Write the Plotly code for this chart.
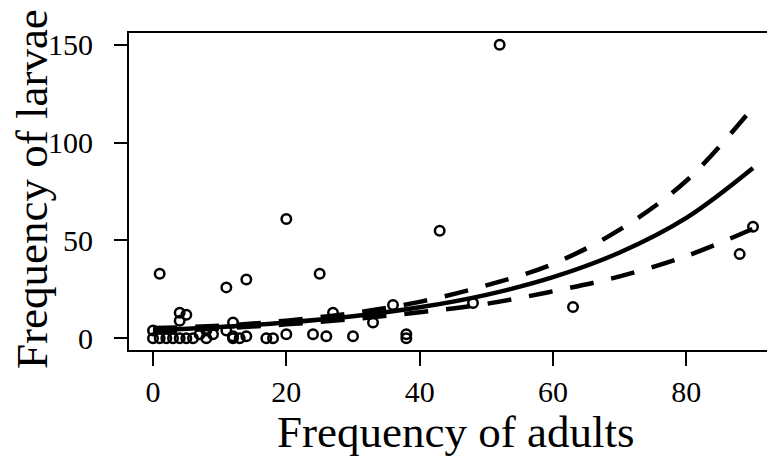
import plotly.graph_objects as go

# Observed data (adults, larvae)
adults = [0, 0, 1, 1, 2, 3, 4, 4, 4, 5, 5, 6, 7, 8, 8, 9, 11, 11, 12, 12, 12, 13, 14, 14,
          17, 18, 20, 20, 24, 25, 26, 27, 30, 33, 36, 38, 38, 43, 48, 52, 63, 88, 90]
larvae = [0, 4, 0, 33, 0, 0, 13, 9, 0, 12, 0, 0, 2, 0, 4, 2, 26, 4, 8, 1, 0, 0, 30, 1,
          0, 0, 61, 2, 2, 33, 1, 13, 1, 8, 17, 2, 0, 55, 18, 150, 16, 43, 57]

# Fitted curve and confidence bounds
fit_x = [0, 10, 20, 30, 40, 50, 60, 70, 80, 90]
fit_mid = [4.0, 5.7, 8.0, 11.2, 15.8, 22.2, 31.2, 43.8, 61.5, 87.0]
fit_upper = [5.2, 6.4, 9.0, 12.9, 18.6, 27.0, 38.0, 55.5, 80.5, 118.0]
fit_lower = [3.2, 5.0, 7.1, 9.8, 13.3, 17.6, 24.0, 31.6, 42.0, 56.0]

x_ticks = [0, 20, 40, 60, 80]
y_ticks = [0, 50, 100, 150]

fig = go.Figure()
fig.add_trace(go.Scatter(
    x=adults, y=larvae, mode="markers",
    marker=dict(symbol="circle-open", size=9.5, color="black", line=dict(width=2.5, color="black")),
    showlegend=False))
fig.add_trace(go.Scatter(x=fit_x, y=fit_mid, mode="lines",
                         line=dict(color="black", width=4.5, shape="spline"), showlegend=False))
for ys in (fit_upper, fit_lower):
    fig.add_trace(go.Scatter(x=fit_x, y=ys, mode="lines",
                             line=dict(color="black", width=4.5, shape="spline", dash="24px,18px"),
                             showlegend=False))

font_family = "Liberation Serif"
L, R, T, B = 129, 0, 33, 109
W, H = 767, 459
pw = W - L - R
ph = H - T - B
fig.update_layout(
    width=W, height=H,
    margin=dict(l=L, r=R, t=T, b=B),
    paper_bgcolor="white", plot_bgcolor="white",
    font=dict(family=font_family, color="black", size=30),
    xaxis=dict(range=[-3.6, 92.1], tickvals=x_ticks, ticks="outside", ticklen=14, tickwidth=2,
               tickcolor="black", showline=True, linecolor="black", linewidth=2, mirror=True,
               showgrid=False, zeroline=False, tickfont=dict(size=30)),
    yaxis=dict(range=[-6, 156], tickvals=y_ticks, ticks="outside", ticklen=13, tickwidth=2,
               tickcolor="black", showline=True, linecolor="black", linewidth=2,
               showgrid=False, zeroline=False, tickfont=dict(size=30), ticklabelstandoff=15),
    annotations=[
        dict(text="Frequency of adults", xref="paper", yref="paper",
             x=(455 - L) / pw, y=(H - B - 432) / ph, xanchor="center", yanchor="middle",
             showarrow=False, font=dict(size=45)),
        dict(text="Frequency of larvae", xref="paper", yref="paper",
             x=(32 - L) / pw, y=(H - B - 189) / ph, xanchor="center", yanchor="middle",
             textangle=-90, showarrow=False, font=dict(size=45)),
    ],
)
fig.write_html("out.html")
